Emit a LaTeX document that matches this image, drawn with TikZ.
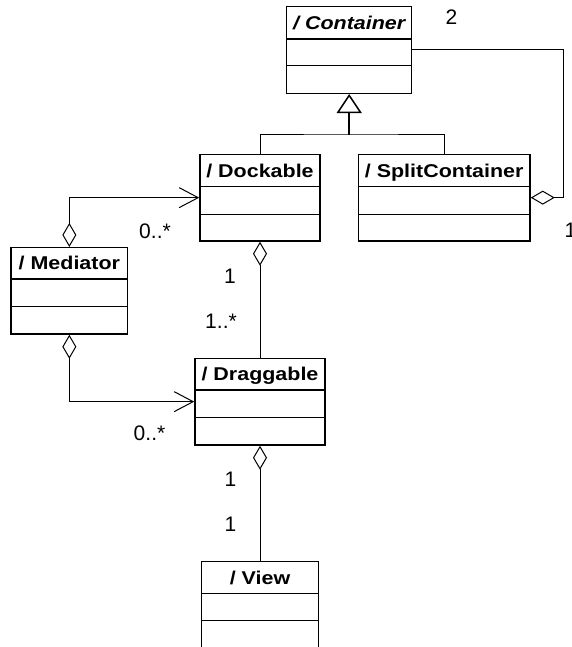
\documentclass[tikz,border=0pt]{standalone}
\usepackage{fontspec}
\setmainfont{Liberation Sans}
\usepackage{graphicx}
\usetikzlibrary{arrows.meta,fit}
\newcommand\umlclass[8]{%
  \node[box, fit={(#2,#3) (#4,#5)}] (#1) {};
  \draw[comp] (#2,#6) -- (#4,#6);
  \draw[comp] (#2,#7) -- (#4,#7);
  \node[title] (#1-t) at ({(#2+#4)/2},{(#3+#6)/2+6.6}) {\scalebox{1.16}[1]{#8}};
}
\begin{document}
\begin{tikzpicture}[x=1pt,y=-1pt,
  box/.style={draw, line width=1.5pt, inner sep=0pt},
  comp/.style={line width=1.5pt},
  title/.style={anchor=base, inner sep=0pt, font=\fontsize{18.5}{20}\selectfont\bfseries},
  mult/.style={anchor=base, inner sep=0pt, font=\fontsize{21}{24}\selectfont},
  conn/.style={line width=1pt},
  agg/.style={conn, {Diamond[open,length=24pt,width=14pt,line width=1pt]}-},
  aggnav/.style={conn, {Diamond[open,length=24pt,width=14pt,line width=1pt]}-{Straight Barb[length=19pt,width=20pt,line width=1pt]}},
  gen/.style={line width=1.5pt,-{Triangle[open,length=19pt,width=25pt,line width=1.5pt]}}
]
\useasboundingbox (0,0) rectangle (572,647);

\umlclass{cont}{286.7}{6.7}{411.7}{93.3}{39}{65.7}{\itshape / Container}
\umlclass{dock}{200}{154.3}{320}{241}{186.7}{214.3}{/ Dockable}
\umlclass{split}{358.3}{154.3}{530}{241}{186.7}{214.3}{/ SplitContainer}
\umlclass{med}{11}{247.7}{127.7}{334}{279}{306.7}{/ Mediator}
\umlclass{drag}{195}{358.3}{325}{445}{390}{417.3}{/ Draggable}
\umlclass{view}{201.7}{561.7}{318.3}{690}{593.3}{620.7}{/ View}

% generalization
\coordinate (genj) at (349.2,135);
\draw[conn] (dock.north) |- (genj) -| (split.north);
\draw[gen] (genj) -- (cont.south);

% Container - SplitContainer aggregation
\coordinate (rc) at (563.3,50);
\draw[agg] (split.east) -| (rc) -- (cont.east);

% Mediator associations
\draw[aggnav] (med.north) |- (dock.west);
\draw[aggnav] (med.south) |- (drag.west);

% compositions
\draw[agg] (dock.south) -- (drag.north);
\draw[agg] (drag.south) -- (view.north);

% multiplicities
\node[mult] (m2) at (451.5,25) {2};
\node[mult, anchor=base west] (m1r) at (564.4,237.3) {1};
\node[mult] (m0a) at (155,238.3) {0..*};
\node[mult] (m1a) at (230,283.3) {1};
\node[mult] (m1b) at (221,328) {1..*};
\node[mult] (m0b) at (149.5,440) {0..*};
\node[mult] (m1c) at (230.4,486.7) {1};
\node[mult] (m1d) at (230.4,531.7) {1};
\end{tikzpicture}
\end{document}
